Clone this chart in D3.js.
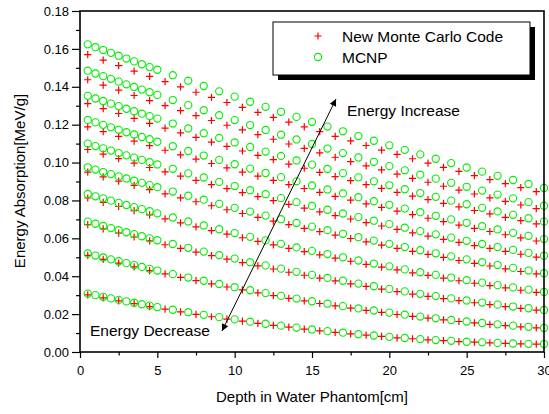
<!DOCTYPE html>
<html><head><meta charset="utf-8">
<script src="https://cdn.jsdelivr.net/npm/d3@7"></script>
<style>html,body{margin:0;padding:0;background:#fff;}svg{display:block;font-family:"Liberation Sans",Arial,sans-serif;}</style>
</head><body>
<svg id="chart" width="549" height="414"></svg>
<script>
// x positions (cm)
const xMCNP = [0.5,1,1.5,2,2.5,3,3.5,4,4.5,5,6,7,8,9,10,11,12,13,14,15,16,17,18,19,20,21,22,23,24,25,26,27,28,29,30];
const xNewMC = [0.5,1.5,2.5,3.5,4.5,5.5,6.5,7.5,8.5,9.5,10.5,11.5,12.5,13.5,14.5,15.5,16.5,17.5,18.5,19.5,20.5,21.5,22.5,23.5,24.5,25.5,26.5,27.5,28.5,29.5];

// MCNP (circles), highest energy first
const mcnp1 = [0.1624,0.1609,0.1594,0.1579,0.1564,0.1549,0.1534,0.1519,0.1504,0.1490,0.1461,0.1432,0.1404,0.1376,0.1348,0.1321,0.1294,0.1268,0.1241,0.1215,0.1190,0.1165,0.1140,0.1115,0.1091,0.1067,0.1043,0.1020,0.0997,0.0974,0.0952,0.0930,0.0908,0.0887,0.0866];
const mcnp2 = [0.1485,0.1470,0.1456,0.1442,0.1427,0.1413,0.1399,0.1385,0.1371,0.1357,0.1330,0.1303,0.1276,0.1250,0.1224,0.1198,0.1172,0.1147,0.1122,0.1098,0.1074,0.1050,0.1027,0.1004,0.0981,0.0959,0.0936,0.0915,0.0893,0.0872,0.0852,0.0831,0.0811,0.0791,0.0772];
const mcnp3 = [0.1352,0.1338,0.1325,0.1311,0.1298,0.1284,0.1271,0.1258,0.1245,0.1232,0.1206,0.1180,0.1155,0.1130,0.1106,0.1082,0.1058,0.1035,0.1011,0.0989,0.0966,0.0944,0.0922,0.0901,0.0880,0.0859,0.0839,0.0819,0.0799,0.0780,0.0761,0.0742,0.0724,0.0706,0.0688];
const mcnp4 = [0.1225,0.1212,0.1199,0.1186,0.1173,0.1160,0.1148,0.1135,0.1123,0.1110,0.1086,0.1061,0.1037,0.1014,0.0991,0.0968,0.0945,0.0923,0.0901,0.0879,0.0858,0.0837,0.0817,0.0796,0.0777,0.0757,0.0738,0.0719,0.0700,0.0682,0.0664,0.0647,0.0629,0.0613,0.0596];
const mcnp5 = [0.1100,0.1087,0.1075,0.1063,0.1050,0.1038,0.1026,0.1014,0.1002,0.0990,0.0967,0.0943,0.0921,0.0898,0.0876,0.0854,0.0833,0.0812,0.0791,0.0771,0.0751,0.0731,0.0712,0.0693,0.0675,0.0656,0.0638,0.0621,0.0604,0.0587,0.0570,0.0554,0.0539,0.0523,0.0508];
const mcnp6 = [0.0975,0.0963,0.0950,0.0939,0.0927,0.0916,0.0904,0.0893,0.0881,0.0870,0.0847,0.0825,0.0804,0.0782,0.0761,0.0741,0.0720,0.0701,0.0681,0.0662,0.0643,0.0624,0.0606,0.0588,0.0571,0.0554,0.0537,0.0521,0.0505,0.0489,0.0474,0.0459,0.0444,0.0430,0.0416];
const mcnp7 = [0.0834,0.0822,0.0811,0.0799,0.0787,0.0776,0.0765,0.0754,0.0743,0.0732,0.0710,0.0689,0.0668,0.0648,0.0628,0.0608,0.0589,0.0571,0.0552,0.0534,0.0517,0.0500,0.0483,0.0467,0.0452,0.0436,0.0421,0.0407,0.0393,0.0379,0.0366,0.0353,0.0341,0.0329,0.0317];
const mcnp8 = [0.0688,0.0677,0.0665,0.0654,0.0643,0.0632,0.0622,0.0611,0.0600,0.0590,0.0570,0.0550,0.0530,0.0511,0.0493,0.0474,0.0457,0.0440,0.0423,0.0407,0.0391,0.0376,0.0361,0.0347,0.0333,0.0320,0.0307,0.0295,0.0283,0.0272,0.0261,0.0250,0.0240,0.0231,0.0222];
const mcnp9 = [0.0520,0.0509,0.0499,0.0489,0.0479,0.0469,0.0459,0.0449,0.0439,0.0430,0.0411,0.0393,0.0376,0.0359,0.0342,0.0326,0.0311,0.0296,0.0282,0.0268,0.0255,0.0242,0.0230,0.0219,0.0208,0.0197,0.0187,0.0178,0.0169,0.0161,0.0153,0.0146,0.0139,0.0133,0.0127];
const mcnp10 = [0.0308,0.0300,0.0291,0.0283,0.0275,0.0267,0.0260,0.0252,0.0245,0.0237,0.0223,0.0210,0.0196,0.0184,0.0172,0.0160,0.0149,0.0139,0.0129,0.0119,0.0110,0.0102,0.0094,0.0087,0.0080,0.0074,0.0068,0.0063,0.0059,0.0054,0.0051,0.0048,0.0045,0.0043,0.0042];

// New Monte Carlo Code (plus markers)
const newmc1 = [0.1570,0.1541,0.1512,0.1483,0.1455,0.1427,0.1399,0.1371,0.1344,0.1317,0.1291,0.1265,0.1239,0.1213,0.1188,0.1163,0.1138,0.1114,0.1090,0.1066,0.1043,0.1020,0.0997,0.0975,0.0953,0.0931,0.0910,0.0889,0.0868,0.0847];
const newmc2 = [0.1437,0.1409,0.1382,0.1354,0.1327,0.1301,0.1274,0.1248,0.1222,0.1197,0.1172,0.1147,0.1123,0.1098,0.1075,0.1051,0.1028,0.1005,0.0983,0.0961,0.0939,0.0917,0.0896,0.0875,0.0855,0.0834,0.0814,0.0795,0.0776,0.0757];
const newmc3 = [0.1311,0.1285,0.1259,0.1233,0.1207,0.1182,0.1157,0.1133,0.1108,0.1085,0.1061,0.1038,0.1015,0.0992,0.0970,0.0948,0.0926,0.0905,0.0884,0.0864,0.0843,0.0823,0.0804,0.0785,0.0766,0.0747,0.0729,0.0711,0.0693,0.0676];
const newmc4 = [0.1188,0.1163,0.1138,0.1113,0.1089,0.1065,0.1041,0.1018,0.0995,0.0972,0.0950,0.0928,0.0906,0.0884,0.0863,0.0843,0.0822,0.0802,0.0782,0.0763,0.0744,0.0725,0.0706,0.0688,0.0670,0.0653,0.0636,0.0619,0.0602,0.0586];
const newmc5 = [0.1069,0.1045,0.1021,0.0997,0.0974,0.0951,0.0928,0.0906,0.0884,0.0862,0.0841,0.0820,0.0799,0.0779,0.0759,0.0740,0.0720,0.0702,0.0683,0.0665,0.0647,0.0629,0.0612,0.0595,0.0579,0.0562,0.0547,0.0531,0.0516,0.0501];
const newmc6 = [0.0949,0.0924,0.0902,0.0880,0.0857,0.0835,0.0814,0.0793,0.0772,0.0751,0.0731,0.0711,0.0691,0.0672,0.0653,0.0635,0.0617,0.0599,0.0581,0.0564,0.0547,0.0531,0.0515,0.0499,0.0483,0.0468,0.0454,0.0439,0.0425,0.0412];
const newmc7 = [0.0813,0.0790,0.0768,0.0746,0.0724,0.0703,0.0682,0.0661,0.0641,0.0622,0.0603,0.0584,0.0565,0.0547,0.0530,0.0513,0.0496,0.0479,0.0463,0.0448,0.0433,0.0418,0.0404,0.0390,0.0376,0.0363,0.0350,0.0338,0.0326,0.0315];
const newmc8 = [0.0672,0.0650,0.0628,0.0607,0.0587,0.0566,0.0547,0.0527,0.0509,0.0490,0.0472,0.0455,0.0438,0.0421,0.0405,0.0390,0.0375,0.0360,0.0346,0.0332,0.0319,0.0306,0.0294,0.0282,0.0271,0.0260,0.0250,0.0240,0.0230,0.0221];
const newmc9 = [0.0510,0.0489,0.0469,0.0449,0.0430,0.0412,0.0394,0.0377,0.0360,0.0343,0.0328,0.0312,0.0298,0.0283,0.0270,0.0256,0.0244,0.0232,0.0220,0.0209,0.0198,0.0188,0.0179,0.0170,0.0161,0.0154,0.0146,0.0139,0.0133,0.0127];
const newmc10 = [0.0302,0.0286,0.0270,0.0255,0.0240,0.0226,0.0212,0.0199,0.0186,0.0174,0.0163,0.0151,0.0141,0.0131,0.0121,0.0112,0.0104,0.0096,0.0089,0.0082,0.0075,0.0070,0.0064,0.0060,0.0055,0.0052,0.0048,0.0046,0.0043,0.0042];

const xTicks = [0,5,10,15,20,25,30];
const xMinorTicks = [2.5,7.5,12.5,17.5,22.5,27.5];
const yTicks = [0,0.02,0.04,0.06,0.08,0.10,0.12,0.14,0.16,0.18];
const yMinorTicks = [0.01,0.03,0.05,0.07,0.09,0.11,0.13,0.15,0.17];
const legendLabels = ["New Monte Carlo Code","MCNP"];
const xTitle = "Depth in Water Phantom[cm]";
const yTitle = "Energy Absorption[MeV/g]";
const noteUp = "Energy Increase";
const noteDown = "Energy Decrease";

const mcnpSeries = [mcnp1,mcnp2,mcnp3,mcnp4,mcnp5,mcnp6,mcnp7,mcnp8,mcnp9,mcnp10];
const newmcSeries = [newmc1,newmc2,newmc3,newmc4,newmc5,newmc6,newmc7,newmc8,newmc9,newmc10];

const svg = d3.select("#chart");
const L = 80, R = 544, T = 11, B = 352;
const x = d3.scaleLinear().domain([0,30]).range([L,R]);
const y = d3.scaleLinear().domain([0,0.18]).range([B,T]);

const RED = "#ff0000", GREEN = "#00ee00";
const plusPath = "M-3.6,0H3.6M0,-3.6V3.6";

// markers
const gData = svg.append("g");
newmcSeries.forEach(s => {
  gData.append("g").selectAll("path").data(s).join("path")
    .attr("d", plusPath)
    .attr("transform", (d,i) => `translate(${x(xNewMC[i])},${y(d)})`)
    .attr("stroke", RED).attr("stroke-width", 1.2).attr("fill", "none");
});
mcnpSeries.forEach(s => {
  gData.append("g").selectAll("circle").data(s).join("circle")
    .attr("cx", (d,i) => x(xMCNP[i])).attr("cy", d => y(d)).attr("r", 3.6)
    .attr("stroke", GREEN).attr("stroke-width", 1.1).attr("fill", "none");
});

// axes
const tickFont = 13;
const yAxis = d3.axisLeft(y).tickValues(yTicks).tickFormat(d3.format(".2f")).tickSize(8).tickPadding(3);
const yMinor = d3.axisLeft(y).tickValues(yMinorTicks).tickFormat("").tickSize(4);
const xAxis = d3.axisBottom(x).tickValues(xTicks).tickFormat(d3.format("d")).tickSize(6).tickPadding(8);
const xMinor = d3.axisBottom(x).tickValues(xMinorTicks).tickFormat("").tickSize(3.5);

function style(g){
  g.select(".domain").remove();
  g.selectAll("line").attr("stroke","#000").attr("stroke-width",1.2);
  g.selectAll("text").attr("fill","#000").style("font-size", tickFont+"px").style("font-family",'"Liberation Sans",Arial,sans-serif');
}
svg.append("g").attr("transform",`translate(${L},0)`).call(yAxis).call(style);
svg.append("g").attr("transform",`translate(${L},0)`).call(yMinor).call(style);
svg.append("g").attr("transform",`translate(0,${B})`).call(xAxis).call(style);
svg.append("g").attr("transform",`translate(0,${B})`).call(xMinor).call(style);

// frame
svg.append("rect").attr("x",L).attr("y",T).attr("width",R-L).attr("height",B-T)
  .attr("fill","none").attr("stroke","#000").attr("stroke-width",1.6);

// titles
svg.append("text").attr("x",(L+R)/2).attr("y",402).attr("text-anchor","middle")
  .style("font-size","15px").text(xTitle);
svg.append("text").attr("transform","translate(25,181) rotate(-90)").attr("text-anchor","middle")
  .style("font-size","15px").text(yTitle);

// legend
const lg = svg.append("g");
lg.append("rect").attr("x",278).attr("y",27).attr("width",257).attr("height",53).attr("fill","#000");
lg.append("rect").attr("x",273).attr("y",22).attr("width",257).attr("height",53).attr("fill","#fff").attr("stroke","#000").attr("stroke-width",1);
lg.append("path").attr("d",plusPath).attr("transform","translate(318,36)").attr("stroke",RED).attr("stroke-width",1.2);
lg.append("circle").attr("cx",318).attr("cy",57).attr("r",3.6).attr("fill","none").attr("stroke",GREEN).attr("stroke-width",1.1);
lg.append("text").attr("x",342).attr("y",41.5).style("font-size","15.5px").text(legendLabels[0]);
lg.append("text").attr("x",342).attr("y",63).style("font-size","15.5px").text(legendLabels[1]);

// annotations
svg.append("text").attr("x",347).attr("y",115.5).style("font-size","15.5px").text(noteUp);
svg.append("text").attr("x",90).attr("y",336).style("font-size","15.5px").text(noteDown);

const defs = svg.append("defs");
defs.append("marker").attr("id","ah").attr("viewBox","0 0 10 10").attr("refX",10).attr("refY",5)
  .attr("markerWidth",9).attr("markerHeight",7).attr("orient","auto-start-reverse").attr("markerUnits","userSpaceOnUse")
  .append("path").attr("d","M0,0L10,5L0,10z").attr("fill","#000");
svg.append("line").attr("x1",222).attr("y1",331).attr("x2",336).attr("y2",99)
  .attr("stroke","#000").attr("stroke-width",1)
  .attr("marker-start","url(#ah)").attr("marker-end","url(#ah)");
</script>
</body></html>
